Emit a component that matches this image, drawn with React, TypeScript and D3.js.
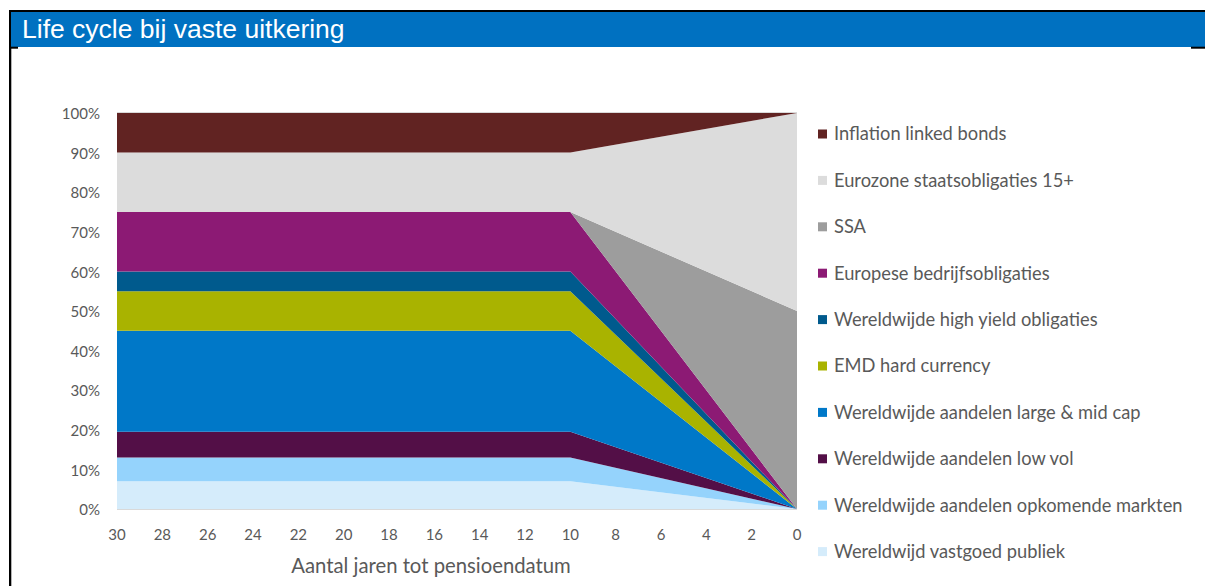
import React from "react";
import * as d3 from "d3";

const years = [30, 10, 0];
const vastgoed = [7, 7, 0];
const opkomende = [6, 6, 0];
const lowVol = [6.5, 6.5, 0];
const largeMid = [25.5, 25.5, 0];
const emd = [10, 10, 0];
const highYield = [5, 5, 0];
const europese = [15, 15, 0];
const ssa = [0, 0, 50];
const eurozone = [15, 15, 50];
const inflationLinked = [10, 10, 0];

const seriesNames = [
  "Wereldwijd vastgoed publiek",
  "Wereldwijde aandelen opkomende markten",
  "Wereldwijde aandelen low vol",
  "Wereldwijde aandelen large & mid cap",
  "EMD hard currency",
  "Wereldwijde high yield obligaties",
  "Europese bedrijfsobligaties",
  "SSA",
  "Eurozone staatsobligaties 15+",
  "Inflation linked bonds",
];
const seriesValues = [vastgoed, opkomende, lowVol, largeMid, emd, highYield, europese, ssa, eurozone, inflationLinked];
const seriesColors = [
  "#D5ECFB",
  "#95D3FC",
  "#530F47",
  "#0078C8",
  "#A9B300",
  "#005A8D",
  "#8C1A74",
  "#9D9D9D",
  "#DCDCDC",
  "#612322",
];

const xTicks = [30, 28, 26, 24, 22, 20, 18, 16, 14, 12, 10, 8, 6, 4, 2, 0];
const yTicks = [0, 10, 20, 30, 40, 50, 60, 70, 80, 90, 100];

const title = "Life cycle bij vaste uitkering";
const xTitle = "Aantal jaren tot pensioendatum";

export default function App() {
  const W = 1205;
  const H = 586;
  const x = d3.scaleLinear().domain([30, 0]).range([117, 797]);
  const y = d3.scaleLinear().domain([0, 100]).range([509, 113]);

  const rows = years.map((yr, i) => {
    const r: any = { year: yr };
    seriesNames.forEach((n, k) => (r[n] = seriesValues[k][i]));
    return r;
  });
  const stack = d3.stack<any>().keys(seriesNames);
  const layers = stack(rows);
  const area = d3
    .area<any>()
    .x((d) => x(d.data.year))
    .y0((d) => y(d[0]))
    .y1((d) => y(d[1]));

  const font = "Lato, 'Open Sans', sans-serif";
  const legendTop = 134;
  const legendStep = 46.4;
  const legendOrder = seriesNames.map((_, i) => i).reverse();

  return (
    <svg width={W} height={H} style={{ position: "absolute", left: 0, top: 0, background: "#fff" }}>
      <rect x={0} y={0} width={W} height={H} fill="#fff" />
      {/* frame */}
      <rect x={9} y={10} width={W - 9} height={2} fill="#000" />
      <rect x={9} y={10} width={2.3} height={H - 10} fill="#000" />
      <rect x={11} y={12} width={W - 11} height={35} fill="#0071C1" />
      <rect x={11} y={46.7} width={7} height={2} fill="#000" />
      <rect x={1191} y={46.7} width={14} height={2} fill="#000" />
      <text x={22} y={38} fill="#fff" fontFamily="'Liberation Sans', Arial, sans-serif" fontSize={26.5}>
        {title}
      </text>

      {/* areas */}
      {layers.map((layer, i) => (
        <path key={layer.key} d={area(layer) || ""} fill={seriesColors[i]} />
      ))}
      <line x1={x(30)} x2={x(0)} y1={y(100) - 0.5} y2={y(100) - 0.5} stroke="#D9D9D9" strokeWidth={1} />
      <line x1={x(30)} x2={x(0)} y1={y(0) + 0.5} y2={y(0) + 0.5} stroke="#D9D9D9" strokeWidth={1} />

      {/* y axis labels */}
      {yTicks.map((t) => (
        <text key={t} x={100} y={y(t) + 1} dy="0.35em" textAnchor="end" fill="#595959" fontFamily={font} fontSize={15}>
          {t}%
        </text>
      ))}
      {/* x axis labels */}
      {xTicks.map((t) => (
        <text key={t} x={x(t)} y={535} dy="0.35em" textAnchor="middle" fill="#595959" fontFamily={font} fontSize={15}>
          {t}
        </text>
      ))}
      <text x={431} y={566} dy="0.35em" textAnchor="middle" fill="#595959" fontFamily={font} fontSize={20.3}>
        {xTitle}
      </text>

      {/* legend */}
      {legendOrder.map((k, j) => {
        const cy = legendTop + j * legendStep;
        return (
          <g key={seriesNames[k]}>
            <rect x={818} y={cy - 4.5} width={9} height={9} fill={seriesColors[k]} />
            <text x={834} y={cy} dy="0.35em" fill="#595959" fontFamily={font} fontSize={18.3}>
              {seriesNames[k]}
            </text>
          </g>
        );
      })}
    </svg>
  );
}
